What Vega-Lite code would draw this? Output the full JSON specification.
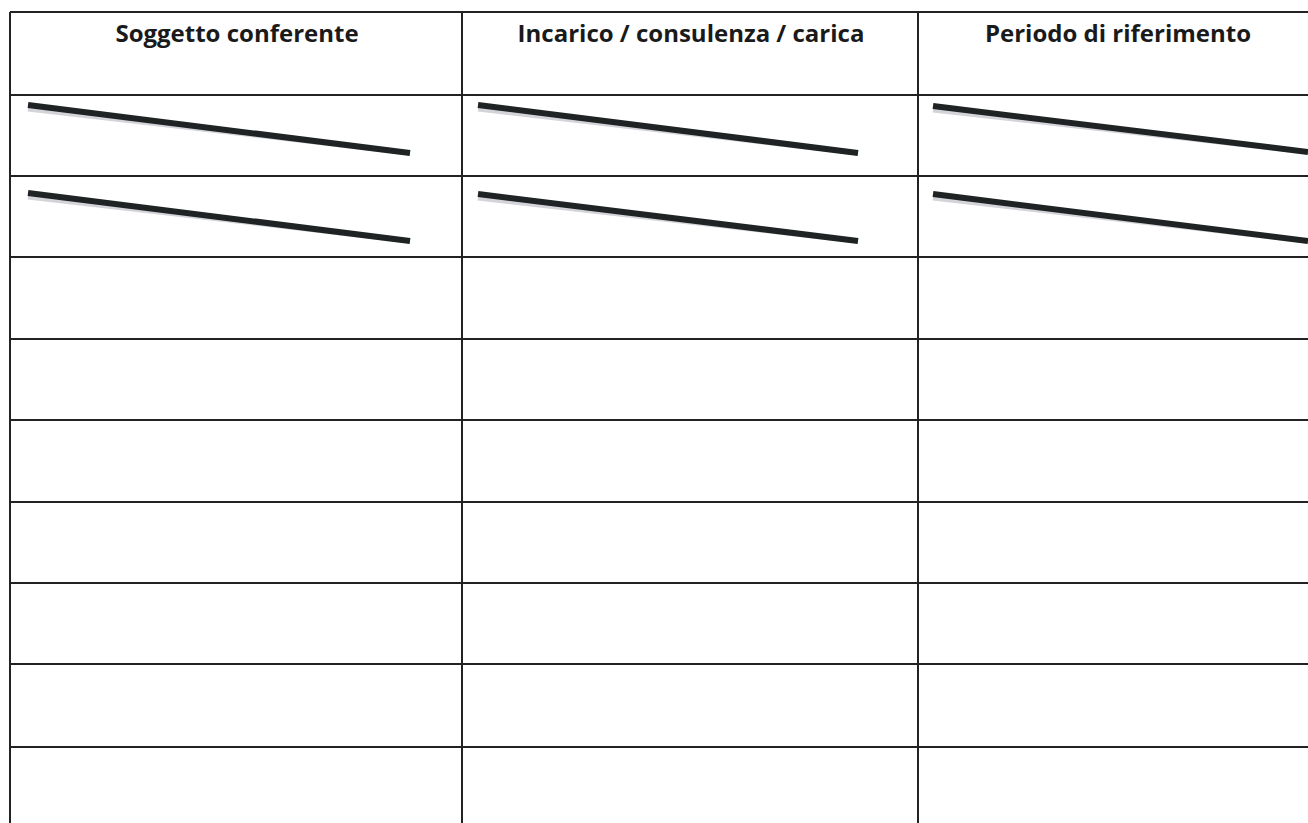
{
  "$schema": "https://vega.github.io/schema/vega-lite/v6.json",
  "autosize": {"type": "fit", "contains": "padding"},
  "width": 1308,
  "height": 823,
  "padding": 0,
  "background": "white",
  "config": {"view": {"stroke": null}},
  "datasets": {
    "vlines": [
      {"x": 10, "y": 12, "y2": 823},
      {"x": 462, "y": 12, "y2": 823},
      {"x": 918, "y": 12, "y2": 823}
    ],
    "hlines": [
      {"y": 12, "x": 10, "x2": 1308},
      {"y": 95, "x": 10, "x2": 1308},
      {"y": 176, "x": 10, "x2": 1308},
      {"y": 257, "x": 10, "x2": 1308},
      {"y": 339, "x": 10, "x2": 1308},
      {"y": 420, "x": 10, "x2": 1308},
      {"y": 502, "x": 10, "x2": 1308},
      {"y": 583, "x": 10, "x2": 1308},
      {"y": 664, "x": 10, "x2": 1308},
      {"y": 747, "x": 10, "x2": 1308}
    ],
    "strikes": [
      {"x": 28, "y": 105, "x2": 410, "y2": 153},
      {"x": 478, "y": 105, "x2": 858, "y2": 153},
      {"x": 933, "y": 106, "x2": 1308, "y2": 152},
      {"x": 28, "y": 193, "x2": 410, "y2": 241},
      {"x": 478, "y": 194, "x2": 858, "y2": 241},
      {"x": 933, "y": 194, "x2": 1308, "y2": 241}
    ],
    "headers": [
      {"x": 237, "y": 42, "label": "Soggetto conferente"},
      {"x": 691, "y": 42, "label": "Incarico / consulenza / carica"},
      {"x": 1118, "y": 42, "label": "Periodo di riferimento"}
    ]
  },
  "encoding": {},
  "layer": [
    {
      "data": {"name": "vlines"},
      "mark": {"type": "rule", "color": "#222222", "strokeWidth": 2, "clip": true},
      "encoding": {
        "x": {"field": "x", "type": "quantitative", "scale": {"domain": [0, 1308], "nice": false, "zero": false}, "axis": null},
        "y": {"field": "y", "type": "quantitative", "scale": {"domain": [0, 823], "nice": false, "zero": false, "reverse": true}, "axis": null},
        "y2": {"field": "y2"}
      }
    },
    {
      "data": {"name": "hlines"},
      "mark": {"type": "rule", "color": "#222222", "strokeWidth": 2, "clip": true},
      "encoding": {
        "x": {"field": "x", "type": "quantitative", "axis": null},
        "x2": {"field": "x2"},
        "y": {"field": "y", "type": "quantitative", "axis": null}
      }
    },
    {
      "data": {"name": "strikes"},
      "mark": {"type": "rule", "color": "#c8c8d0", "strokeWidth": 5, "strokeCap": "butt", "yOffset": 4, "opacity": 0.8, "clip": true},
      "encoding": {
        "x": {"field": "x", "type": "quantitative", "axis": null},
        "x2": {"field": "x2"},
        "y": {"field": "y", "type": "quantitative", "axis": null},
        "y2": {"field": "y2"}
      }
    },
    {
      "data": {"name": "strikes"},
      "mark": {"type": "rule", "color": "#1f2323", "strokeWidth": 6, "strokeCap": "butt", "clip": true},
      "encoding": {
        "x": {"field": "x", "type": "quantitative", "axis": null},
        "x2": {"field": "x2"},
        "y": {"field": "y", "type": "quantitative", "axis": null},
        "y2": {"field": "y2"}
      }
    },
    {
      "data": {"name": "headers"},
      "mark": {"type": "text", "font": "Open Sans", "fontWeight": "bold", "fontSize": 24, "color": "#1a1a1a", "align": "center", "baseline": "alphabetic"},
      "encoding": {
        "x": {"field": "x", "type": "quantitative", "axis": null},
        "y": {"field": "y", "type": "quantitative", "axis": null},
        "text": {"field": "label"}
      }
    }
  ]
}
